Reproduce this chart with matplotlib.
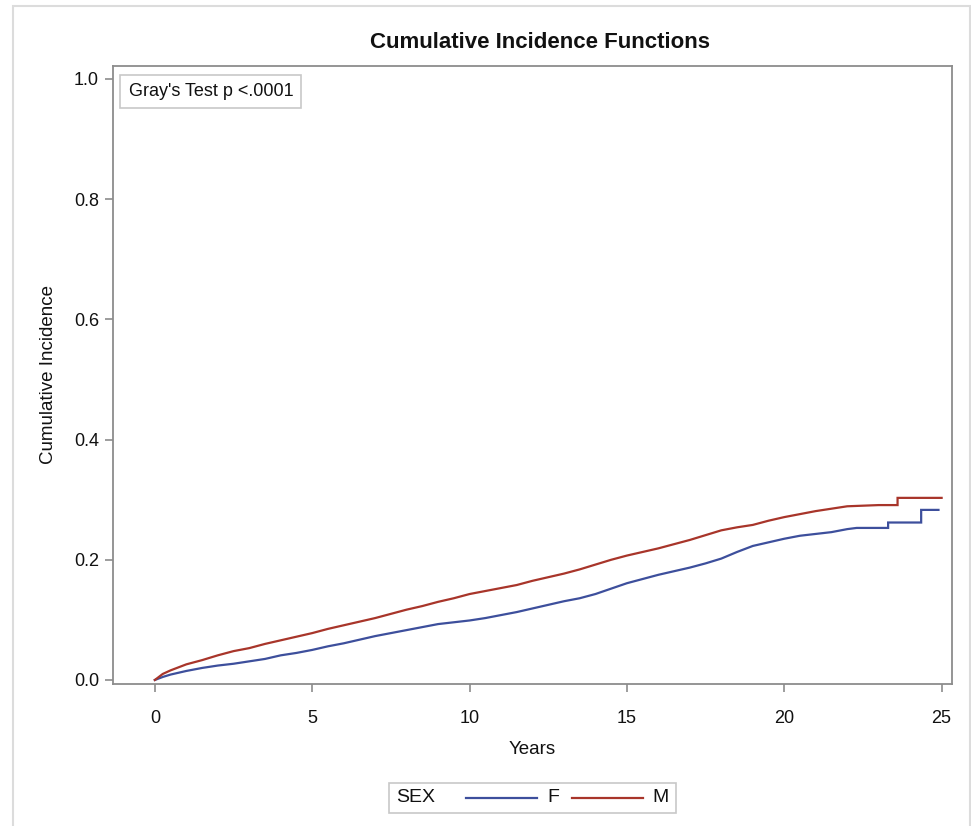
import matplotlib
matplotlib.use("Agg")
import matplotlib.pyplot as plt
from matplotlib.lines import Line2D
from matplotlib.patches import Rectangle

# ---- data ----
years_m = [0, 0.25, 0.5, 1.0, 1.5, 2.0, 2.5, 3.0, 3.5, 4.0, 4.5, 5.0, 5.5, 6.0, 6.5,
           7.0, 7.5, 8.0, 8.5, 9.0, 9.5, 10.0, 10.5, 11.0, 11.5, 12.0, 12.5, 13.0,
           13.5, 14.0, 14.5, 15.0, 15.5, 16.0, 16.5, 17.0, 17.5, 18.0, 18.5, 19.0,
           19.5, 20.0, 20.5, 21.0, 21.5, 22.0, 22.5, 23.0, 23.6, 23.6, 25.0]
cif_m = [0, 0.010, 0.016, 0.026, 0.033, 0.041, 0.048, 0.053, 0.060, 0.066, 0.072,
         0.078, 0.085, 0.091, 0.097, 0.103, 0.110, 0.117, 0.123, 0.130, 0.136,
         0.143, 0.148, 0.153, 0.158, 0.165, 0.171, 0.177, 0.184, 0.192, 0.200,
         0.207, 0.213, 0.219, 0.226, 0.233, 0.241, 0.249, 0.254, 0.258, 0.265,
         0.271, 0.276, 0.281, 0.285, 0.289, 0.290, 0.291, 0.291, 0.303, 0.303]

years_f = [0, 0.25, 0.5, 1.0, 1.5, 2.0, 2.5, 3.0, 3.5, 4.0, 4.5, 5.0, 5.5, 6.0, 6.5,
           7.0, 7.5, 8.0, 8.5, 9.0, 9.5, 10.0, 10.5, 11.0, 11.5, 12.0, 12.5, 13.0,
           13.5, 14.0, 14.5, 15.0, 15.5, 16.0, 16.5, 17.0, 17.5, 18.0, 18.5, 19.0,
           19.5, 20.0, 20.5, 21.0, 21.5, 22.0, 22.3, 23.3, 23.3, 24.35, 24.35, 24.9]
cif_f = [0, 0.005, 0.009, 0.015, 0.020, 0.024, 0.027, 0.031, 0.035, 0.041, 0.045,
         0.050, 0.056, 0.061, 0.067, 0.073, 0.078, 0.083, 0.088, 0.093, 0.096,
         0.099, 0.103, 0.108, 0.113, 0.119, 0.125, 0.131, 0.136, 0.143, 0.152,
         0.161, 0.168, 0.175, 0.181, 0.187, 0.194, 0.202, 0.213, 0.223, 0.229,
         0.235, 0.240, 0.243, 0.246, 0.251, 0.253, 0.253, 0.262, 0.262, 0.283, 0.283]

x_ticks = [0, 5, 10, 15, 20, 25]
y_ticks = [0.0, 0.2, 0.4, 0.6, 0.8, 1.0]
y_ticklabels = ["0.0", "0.2", "0.4", "0.6", "0.8", "1.0"]

title = "Cumulative Incidence Functions"
inset_text = "Gray's Test p <.0001"
legend_title = "SEX"
series_labels = ["F", "M"]

# ---- style ----
BLUE = "#3d4f9c"
RED = "#a8352a"
AXC = "#8c8c8c"
plt.rcParams["font.family"] = ["Liberation Sans", "DejaVu Sans"]

W, H = 971, 826
fig = plt.figure(figsize=(W / 100, H / 100), dpi=100)
fig.patch.set_facecolor("white")

# outer light frame
fig.add_artist(Rectangle((13 / W, -0.01), (970 - 13) / W, 1 - 6 / H + 0.01,
                         transform=fig.transFigure, fill=False,
                         edgecolor="#dcdcdc", linewidth=1.5))

ax = fig.add_axes([113 / W, 1 - 684 / H, (952 - 113) / W, (684 - 66) / H])
ax.plot(years_f, cif_f, color=BLUE, linewidth=1.6, solid_joinstyle="miter")
ax.plot(years_m, cif_m, color=RED, linewidth=1.6, solid_joinstyle="miter")

ax.set_xlim(-1.33, 25.33)
ax.set_ylim(-0.0067, 1.0216)
ax.set_xticks(x_ticks)
ax.set_xticklabels([str(t) for t in x_ticks])
ax.set_yticks(y_ticks)
ax.set_yticklabels(y_ticklabels)
for s in ax.spines.values():
    s.set_color(AXC)
    s.set_linewidth(1.3)
ax.tick_params(colors=AXC, labelcolor="#111111", labelsize=13, length=6, width=1.2)
ax.tick_params(axis="x", pad=13)
ax.tick_params(axis="y", pad=4)
ax.set_xlabel("Years", fontsize=13.5, color="#111111", labelpad=10)
ax.set_ylabel("Cumulative Incidence", fontsize=13.5, color="#111111", labelpad=12)

fig.text(540 / W, 1 - 42 / H, title, ha="center", va="center", fontsize=16,
         fontweight="bold", family=["Liberation Sans Narrow", "Liberation Sans", "DejaVu Sans"],
         color="#111111")

# inset text box
ax.text(0.0185, 0.972, inset_text, transform=ax.transAxes, ha="left", va="top",
        fontsize=13, color="#111111",
        bbox=dict(boxstyle="square,pad=0.45", facecolor="white", edgecolor="#c8c8c8",
                  linewidth=1.2))

# legend at bottom
fig.add_artist(Rectangle((389 / W, 1 - 813 / H), (676 - 389) / W, 30 / H,
                         transform=fig.transFigure, fill=False,
                         edgecolor="#c8c8c8", linewidth=1.2))
ly = 1 - 798 / H
fig.text(396 / W, ly, legend_title, ha="left", va="center", fontsize=14, color="#111111")
fig.add_artist(Line2D([466 / W, 537 / W], [ly, ly], transform=fig.transFigure,
                      color=BLUE, linewidth=1.6))
fig.text(547 / W, ly, series_labels[0], ha="left", va="center", fontsize=14, color="#111111")
fig.add_artist(Line2D([572 / W, 643 / W], [ly, ly], transform=fig.transFigure,
                      color=RED, linewidth=1.6))
fig.text(652 / W, ly, series_labels[1], ha="left", va="center", fontsize=14, color="#111111")

fig.savefig("out.png", dpi=100, facecolor="white")
